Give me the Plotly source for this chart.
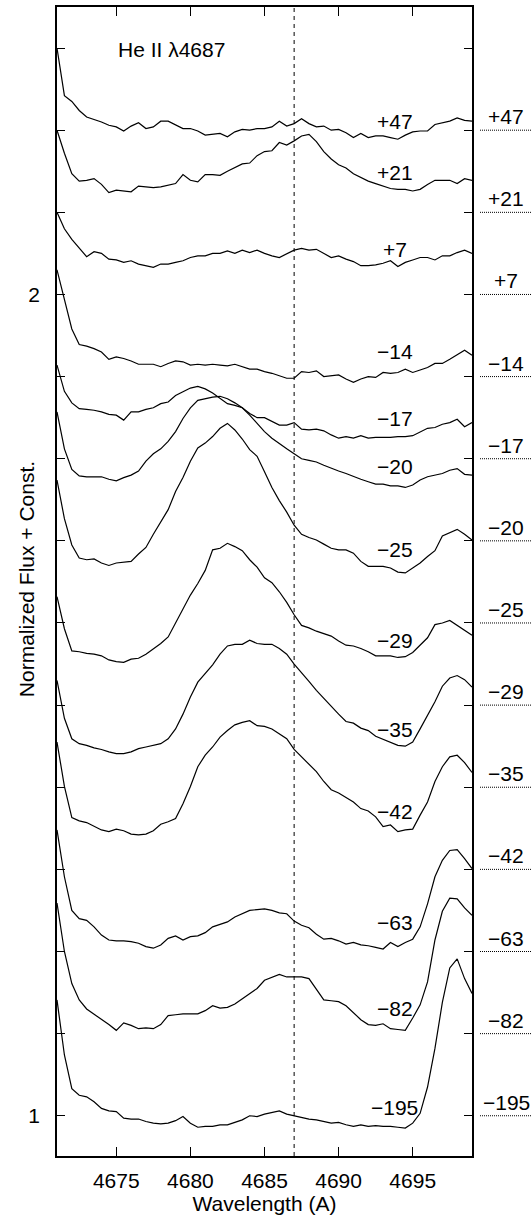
import plotly.graph_objects as go

# ---------------- data ----------------
wavelength = [4671.0, 4671.5, 4672.0, 4672.5, 4673.0, 4673.5, 4674.0, 4674.5, 4675.0, 4675.5,
              4676.0, 4676.5, 4677.0, 4677.5, 4678.0, 4678.5, 4679.0, 4679.5, 4680.0, 4680.5,
              4681.0, 4681.5, 4682.0, 4682.5, 4683.0, 4683.5, 4684.0, 4684.5, 4685.0, 4685.5,
              4686.0, 4686.5, 4687.0, 4687.5, 4688.0, 4688.5, 4689.0, 4689.5, 4690.0, 4690.5,
              4691.0, 4691.5, 4692.0, 4692.5, 4693.0, 4693.5, 4694.0, 4694.5, 4695.0, 4695.5,
              4696.0, 4696.5, 4697.0, 4697.5, 4698.0, 4698.5, 4699.0]

flux_p47 = [1.100, 1.042, 1.035, 1.024, 1.016, 1.013, 1.010, 1.006, 1.004, 0.999,
            1.005, 1.009, 1.002, 1.004, 1.011, 1.011, 1.006, 1.002, 1.002, 0.999,
            0.994, 0.995, 0.996, 0.992, 0.998, 1.001, 1.000, 1.002, 1.002, 1.004,
            1.011, 1.005, 1.008, 1.014, 1.008, 1.004, 1.005, 1.000, 1.001, 0.997,
            0.991, 0.996, 0.991, 0.993, 0.993, 0.991, 0.989, 0.994, 0.998, 0.999,
            0.999, 1.007, 1.009, 1.011, 1.015, 1.012, 1.011]
flux_p21 = [1.100, 1.072, 1.047, 1.038, 1.039, 1.041, 1.034, 1.024, 1.027, 1.026,
            1.025, 1.032, 1.031, 1.030, 1.031, 1.033, 1.035, 1.046, 1.039, 1.037,
            1.046, 1.046, 1.045, 1.050, 1.054, 1.059, 1.060, 1.069, 1.074, 1.075,
            1.085, 1.082, 1.087, 1.093, 1.095, 1.086, 1.074, 1.065, 1.058, 1.054,
            1.047, 1.043, 1.038, 1.035, 1.032, 1.029, 1.028, 1.028, 1.026, 1.028,
            1.034, 1.039, 1.039, 1.039, 1.035, 1.041, 1.039]
flux_p7 = [1.100, 1.080, 1.067, 1.056, 1.046, 1.052, 1.050, 1.043, 1.042, 1.039,
           1.041, 1.037, 1.035, 1.033, 1.037, 1.037, 1.039, 1.041, 1.045, 1.047,
           1.047, 1.050, 1.050, 1.053, 1.050, 1.054, 1.051, 1.054, 1.050, 1.047,
           1.045, 1.049, 1.054, 1.056, 1.054, 1.055, 1.050, 1.045, 1.047, 1.043,
           1.040, 1.035, 1.035, 1.036, 1.038, 1.041, 1.034, 1.039, 1.042, 1.045,
           1.045, 1.042, 1.047, 1.047, 1.051, 1.054, 1.050]
flux_m14 = [1.130, 1.095, 1.058, 1.039, 1.037, 1.034, 1.030, 1.021, 1.024, 1.022,
            1.019, 1.015, 1.015, 1.015, 1.012, 1.016, 1.019, 1.018, 1.014, 1.015,
            1.014, 1.015, 1.014, 1.013, 1.015, 1.012, 1.009, 1.009, 1.006, 1.004,
            1.001, 0.998, 0.998, 1.006, 1.005, 1.007, 1.000, 1.001, 1.002, 0.997,
            0.993, 0.997, 1.000, 0.999, 1.005, 1.004, 1.005, 1.009, 1.005, 1.008,
            1.011, 1.016, 1.016, 1.021, 1.026, 1.032, 1.026]
flux_m17 = [1.114, 1.082, 1.068, 1.061, 1.060, 1.059, 1.057, 1.054, 1.053, 1.047,
            1.057, 1.057, 1.060, 1.062, 1.067, 1.069, 1.077, 1.082, 1.086, 1.088,
            1.085, 1.080, 1.073, 1.067, 1.065, 1.062, 1.055, 1.050, 1.050, 1.046,
            1.041, 1.041, 1.044, 1.036, 1.035, 1.036, 1.034, 1.029, 1.025, 1.027,
            1.025, 1.028, 1.025, 1.026, 1.026, 1.026, 1.027, 1.027, 1.028, 1.033,
            1.037, 1.038, 1.042, 1.044, 1.048, 1.039, 1.044]
flux_m20 = [1.157, 1.112, 1.087, 1.079, 1.078, 1.078, 1.078, 1.075, 1.073, 1.077,
            1.080, 1.085, 1.097, 1.106, 1.112, 1.121, 1.133, 1.149, 1.162, 1.171,
            1.173, 1.175, 1.176, 1.173, 1.168, 1.162, 1.153, 1.143, 1.133, 1.125,
            1.118, 1.112, 1.106, 1.100, 1.098, 1.096, 1.092, 1.088, 1.085, 1.082,
            1.078, 1.075, 1.072, 1.069, 1.069, 1.067, 1.067, 1.065, 1.068, 1.074,
            1.078, 1.080, 1.082, 1.086, 1.088, 1.081, 1.080]
flux_m25 = [1.174, 1.127, 1.095, 1.079, 1.077, 1.078, 1.073, 1.070, 1.073, 1.074,
            1.075, 1.084, 1.092, 1.108, 1.123, 1.138, 1.160, 1.177, 1.197, 1.213,
            1.219, 1.227, 1.237, 1.243, 1.235, 1.224, 1.211, 1.203, 1.184, 1.165,
            1.149, 1.135, 1.119, 1.108, 1.104, 1.101, 1.096, 1.091, 1.089, 1.089,
            1.085, 1.075, 1.069, 1.069, 1.069, 1.067, 1.062, 1.061, 1.067, 1.073,
            1.081, 1.088, 1.106, 1.110, 1.114, 1.108, 1.101]
flux_m29 = [1.132, 1.093, 1.066, 1.065, 1.063, 1.062, 1.060, 1.055, 1.053, 1.052,
            1.056, 1.057, 1.062, 1.068, 1.075, 1.083, 1.100, 1.118, 1.134, 1.148,
            1.164, 1.189, 1.191, 1.197, 1.193, 1.188, 1.177, 1.168, 1.155, 1.149,
            1.138, 1.125, 1.110, 1.097, 1.094, 1.090, 1.087, 1.084, 1.078, 1.073,
            1.072, 1.069, 1.065, 1.060, 1.060, 1.060, 1.058, 1.059, 1.064, 1.073,
            1.082, 1.098, 1.100, 1.103, 1.097, 1.091, 1.085]
flux_m35 = [1.130, 1.084, 1.059, 1.053, 1.051, 1.048, 1.046, 1.043, 1.041, 1.041,
            1.043, 1.047, 1.049, 1.051, 1.053, 1.059, 1.071, 1.089, 1.110, 1.128,
            1.139, 1.149, 1.162, 1.172, 1.174, 1.174, 1.179, 1.175, 1.174, 1.174,
            1.169, 1.162, 1.150, 1.140, 1.129, 1.118, 1.108, 1.099, 1.089, 1.080,
            1.078, 1.072, 1.069, 1.062, 1.058, 1.054, 1.051, 1.050, 1.055, 1.071,
            1.088, 1.104, 1.123, 1.133, 1.136, 1.131, 1.122]
flux_m42 = [1.155, 1.101, 1.063, 1.059, 1.057, 1.053, 1.048, 1.046, 1.049, 1.047,
            1.043, 1.042, 1.043, 1.047, 1.055, 1.058, 1.062, 1.080, 1.101, 1.125,
            1.139, 1.149, 1.161, 1.169, 1.176, 1.179, 1.181, 1.175, 1.174, 1.171,
            1.165, 1.159, 1.146, 1.137, 1.129, 1.119, 1.107, 1.097, 1.093, 1.087,
            1.082, 1.074, 1.071, 1.064, 1.052, 1.054, 1.046, 1.048, 1.049, 1.066,
            1.082, 1.107, 1.125, 1.137, 1.139, 1.130, 1.118]
flux_m63 = [1.148, 1.091, 1.050, 1.040, 1.038, 1.030, 1.020, 1.014, 1.013, 1.013,
            1.012, 1.010, 1.006, 1.004, 1.008, 1.016, 1.019, 1.014, 1.018, 1.019,
            1.023, 1.030, 1.033, 1.036, 1.042, 1.046, 1.050, 1.051, 1.052, 1.050,
            1.047, 1.046, 1.037, 1.032, 1.029, 1.021, 1.015, 1.016, 1.013, 1.009,
            1.011, 1.008, 1.007, 1.005, 1.003, 1.011, 1.006, 1.011, 1.015, 1.030,
            1.058, 1.091, 1.111, 1.123, 1.124, 1.113, 1.101]
flux_m82 = [1.159, 1.100, 1.061, 1.041, 1.030, 1.024, 1.017, 1.011, 1.004, 1.013,
            1.010, 1.006, 1.007, 1.006, 1.011, 1.022, 1.023, 1.024, 1.024, 1.024,
            1.028, 1.034, 1.031, 1.032, 1.036, 1.042, 1.049, 1.055, 1.065, 1.069,
            1.072, 1.069, 1.069, 1.069, 1.067, 1.054, 1.041, 1.040, 1.039, 1.034,
            1.026, 1.017, 1.011, 1.010, 1.012, 1.006, 1.005, 1.004, 1.019, 1.035,
            1.063, 1.114, 1.149, 1.165, 1.164, 1.153, 1.144]
flux_m195 = [1.141, 1.074, 1.033, 1.025, 1.023, 1.017, 1.009, 1.006, 1.005, 0.997,
             0.996, 0.996, 0.993, 0.991, 0.990, 0.991, 0.994, 0.999, 0.991, 0.986,
             0.987, 0.987, 0.989, 0.989, 0.992, 0.995, 1.000, 0.999, 1.002, 1.004,
             1.006, 1.002, 1.000, 0.998, 0.996, 0.995, 0.993, 0.991, 0.992, 0.989,
             0.987, 0.989, 0.987, 0.988, 0.987, 0.987, 0.986, 0.985, 0.991, 1.003,
             1.035, 1.082, 1.138, 1.180, 1.191, 1.167, 1.149]

spectrum_labels = ["+47", "+21", "+7", "\u221214", "\u221217", "\u221220", "\u221225",
                   "\u221229", "\u221235", "\u221242", "\u221263", "\u221282", "\u2212195"]
spectrum_offsets = [1.2, 1.1, 1.0, 0.9, 0.8, 0.7, 0.6, 0.5, 0.4, 0.3, 0.2, 0.1, 0.0]
inner_label_y = [2.210, 2.149, 2.055, 1.930, 1.849, 1.790, 1.689, 1.579, 1.470,
                 1.371, 1.235, 1.131, 1.010]
inner_label_x = 4693.8
rest_wavelength = 4687.0
line_name = "He II \u03bb4687"
x_title = "Wavelength (A)"
y_title = "Normalized Flux + Const."

x_tick_vals = [4675, 4680, 4685, 4690, 4695]
y_tick_vals = [1.0, 1.1, 1.2, 1.3, 1.4, 1.5, 1.6, 1.7, 1.8, 1.9, 2.0, 2.1, 2.2, 2.3]
y_tick_text = ["1", "", "", "", "", "", "", "", "", "", "2", "", "", ""]

x_range = [4671, 4699]
y_range = [0.951, 2.350]

spectra = [flux_p47, flux_p21, flux_p7, flux_m14, flux_m17, flux_m20, flux_m25,
           flux_m29, flux_m35, flux_m42, flux_m63, flux_m82, flux_m195]

# ---------------- figure ----------------
FONT = "Liberation Sans, Arial, Helvetica, sans-serif"
fig = go.Figure()

for flux, off in zip(spectra, spectrum_offsets):
    fig.add_trace(go.Scatter(
        x=wavelength, y=[f + off for f in flux], mode="lines",
        line=dict(color="black", width=1.2), showlegend=False, hoverinfo="skip"))

shapes = [dict(type="line", xref="x", yref="paper", x0=rest_wavelength, x1=rest_wavelength,
               y0=0, y1=1, line=dict(color="black", width=1, dash="4px,4px"))]
annotations = []
for lab, off in zip(spectrum_labels, spectrum_offsets):
    level = 1.0 + off
    shapes.append(dict(type="line", xref="paper", yref="y", x0=1.0193, x1=1.15,
                       y0=level, y1=level, line=dict(color="black", width=1, dash="1px,1px")))
    annotations.append(dict(xref="paper", yref="y", x=1.083, y=level, text=lab,
                            xanchor="center", yanchor="bottom", showarrow=False,
                            font=dict(size=21, color="black", family=FONT)))
for lab, ly in zip(spectrum_labels, inner_label_y):
    annotations.append(dict(xref="x", yref="y", x=inner_label_x, y=ly, text=lab,
                            xanchor="center", yanchor="middle", showarrow=False,
                            font=dict(size=21, color="black", family=FONT)))
annotations.append(dict(xref="x", yref="y", x=4675.0, y=2.2986, text=line_name,
                        xanchor="left", yanchor="middle", showarrow=False,
                        font=dict(size=21, color="black", family=FONT)))
# y-axis title, placed close to the tick labels as in the reference
annotations.append(dict(xref="paper", yref="paper", x=-0.0747, y=0.502, text=y_title,
                        textangle=-90, xanchor="center", yanchor="middle", showarrow=False,
                        font=dict(size=21, color="black", family=FONT)))

axis_common = dict(showline=True, linecolor="black", linewidth=1.5, mirror="ticks",
                   ticks="inside", tickcolor="black", tickwidth=1.2,
                   showgrid=False, zeroline=False, automargin=False,
                   tickfont=dict(size=21, color="black", family=FONT))

fig.update_layout(
    width=532, height=1217,
    margin=dict(l=57, r=60, t=7, b=61),
    paper_bgcolor="white", plot_bgcolor="white",
    font=dict(family=FONT, color="black", size=21),
    shapes=shapes, annotations=annotations,
    xaxis=dict(range=x_range, tickvals=x_tick_vals, ticklen=9, ticklabelstandoff=5,
               title=dict(text=x_title, font=dict(size=21, family=FONT), standoff=5),
               **axis_common),
    yaxis=dict(range=y_range, tickvals=y_tick_vals, ticktext=y_tick_text, ticklen=8,
               ticklabelstandoff=11, **axis_common),
)

fig.write_html(
    "out.html",
    config={"displayModeBar": False},
    post_script="document.body.style.margin='0';document.body.style.overflow='hidden';",
)
